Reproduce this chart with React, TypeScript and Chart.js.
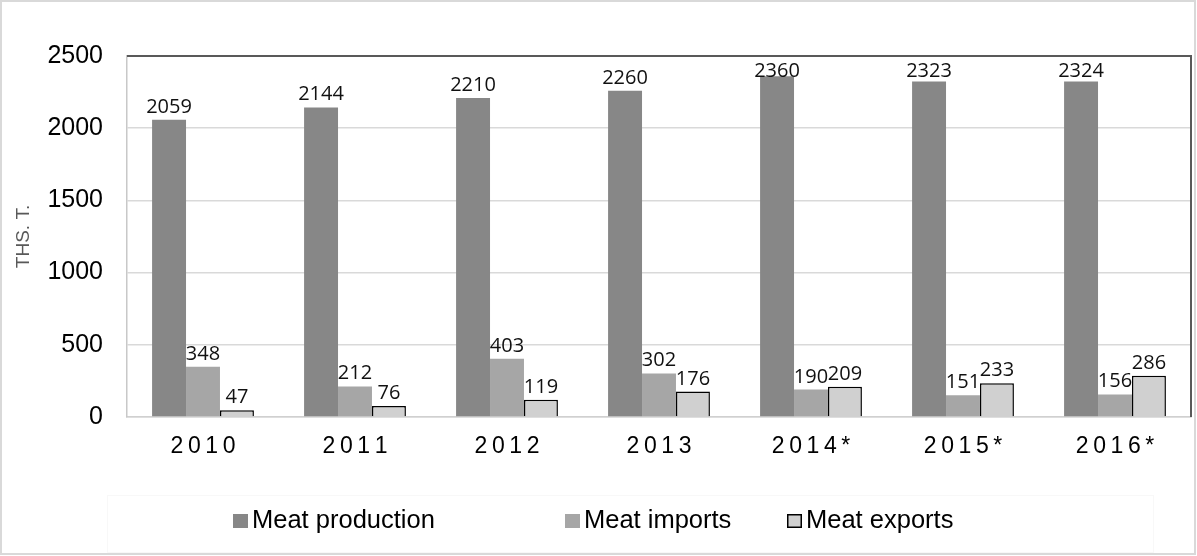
import React, { useEffect, useRef } from "react";
import { Chart, registerables } from "chart.js";

Chart.register(...registerables);

// Years on the category axis
const years = ["2010", "2011", "2012", "2013", "2014*", "2015*", "2016*"];

// Thousand tonnes per year
const meatProduction = [2059, 2144, 2210, 2260, 2360, 2323, 2324];
const meatImports = [348, 212, 403, 302, 190, 151, 156];
const meatExports = [47, 76, 119, 176, 209, 233, 286];

const seriesNames = ["Meat production", "Meat imports", "Meat exports"];

const yTicks = [0, 500, 1000, 1500, 2000, 2500];
const yTitle = "THS. T.";

const W = 1197;
const H = 556;

// Outer frame, plot frame (dark top and right edges) and a faint legend panel
const framePlugin = {
  id: "frame",
  beforeDraw(chart: any) {
    const ctx = chart.ctx;
    ctx.save();
    ctx.fillStyle = "#ffffff";
    ctx.fillRect(0, 0, chart.width, chart.height);
    ctx.strokeStyle = "#d9d9d9";
    ctx.lineWidth = 2;
    ctx.strokeRect(1, 1, chart.width - 3, chart.height - 3);
    ctx.strokeStyle = "#f8f8f8";
    ctx.lineWidth = 1;
    ctx.strokeRect(107.5, 495.5, 1046, 57);
    ctx.restore();
  },
  afterDraw(chart: any) {
    const { ctx, chartArea } = chart;
    ctx.save();
    ctx.strokeStyle = "#595959";
    ctx.lineWidth = 2;
    ctx.beginPath();
    ctx.moveTo(chartArea.left, chartArea.top);
    ctx.lineTo(chartArea.right, chartArea.top);
    ctx.lineTo(chartArea.right, chartArea.bottom);
    ctx.stroke();
    ctx.restore();
  },
};

// Value labels above each bar, kept inside the plot area
const valueLabelPlugin = {
  id: "valueLabels",
  afterDraw(chart: any) {
    const { ctx, chartArea } = chart;
    ctx.save();
    ctx.font = "20px 'Open Sans', 'Noto Sans', sans-serif";
    ctx.fillStyle = "#111111";
    ctx.textAlign = "center";
    ctx.textBaseline = "alphabetic";
    chart.data.datasets.forEach((ds: any, di: number) => {
      const meta = chart.getDatasetMeta(di);
      meta.data.forEach((el: any, i: number) => {
        const y = Math.max(el.y - 7, chartArea.top + 21);
        ctx.fillText(String(ds.data[i]), el.x, y);
      });
    });
    ctx.restore();
  },
};

// Legend drawn along the bottom with the spacing of the original layout
const legendSlots = [233, 565, 787];
const legendPlugin = {
  id: "bottomLegend",
  afterDraw(chart: any) {
    const ctx = chart.ctx;
    ctx.save();
    ctx.font = "25.5px 'Liberation Sans', Arial, sans-serif";
    ctx.textBaseline = "alphabetic";
    ctx.textAlign = "left";
    chart.data.datasets.forEach((ds: any, i: number) => {
      const x = legendSlots[i];
      const boxY = 514;
      ctx.fillStyle = ds.backgroundColor;
      ctx.fillRect(x, boxY, 15, 14);
      if (ds.borderWidth) {
        ctx.strokeStyle = ds.borderColor;
        ctx.lineWidth = 1.5;
        ctx.strokeRect(x + 0.75, boxY + 0.75, 13.5, 12.5);
      }
      ctx.fillStyle = "#000000";
      ctx.fillText(ds.label, x + 19, 528);
    });
    ctx.restore();
  },
};

export default function App() {
  const ref = useRef<HTMLCanvasElement | null>(null);

  useEffect(() => {
    if (!ref.current) return;
    const chart = new Chart(ref.current, {
      type: "bar",
      data: {
        labels: years,
        datasets: [
          {
            label: seriesNames[0],
            data: meatProduction,
            backgroundColor: "#878787",
            borderWidth: 0,
          },
          {
            label: seriesNames[1],
            data: meatImports,
            backgroundColor: "#a6a6a6",
            borderWidth: 0,
          },
          {
            label: seriesNames[2],
            data: meatExports,
            backgroundColor: "#d0d0d0",
            borderColor: "#000000",
            borderWidth: 1.5,
          },
        ],
      },
      options: {
        responsive: false,
        animation: false,
        layout: { padding: { top: 56, right: 6, bottom: 0, left: 0 } },
        datasets: {
          bar: { categoryPercentage: 0.67, barPercentage: 1 },
        },
        plugins: {
          legend: { display: false },
          tooltip: { enabled: false },
        },
        scales: {
          x: {
            grid: { display: false, drawTicks: false },
            border: { display: true, color: "#d0d0d0", width: 1.5 },
            ticks: {
              color: "#000000",
              padding: 16,
              font: { family: "'Liberation Sans', Arial, sans-serif", size: 23 },
              callback: (_v: any, i: number) => years[i].split("").join("\u2009"),
            },
            afterFit: (scale: any) => {
              scale.height = 139;
            },
          },
          y: {
            min: 0,
            max: 2500,
            afterBuildTicks: (scale: any) => {
              scale.ticks = yTicks.map((v) => ({ value: v }));
            },
            grid: { color: "#d9d9d9", lineWidth: 1.5, drawTicks: false },
            border: { display: true, color: "#c8c8c8", width: 1.5 },
            ticks: {
              color: "#000000",
              padding: 24,
              font: { family: "'Liberation Sans', Arial, sans-serif", size: 25 },
              callback: (v: any) => String(v),
            },
            title: {
              display: true,
              text: yTitle,
              color: "#595959",
              padding: { top: 12, bottom: 0 },
              font: { family: "'Liberation Sans', Arial, sans-serif", size: 19 },
            },
            afterFit: (scale: any) => {
              scale.width = 127;
            },
          },
        },
      },
      plugins: [framePlugin, valueLabelPlugin, legendPlugin],
    });
    return () => chart.destroy();
  }, []);

  return (
    <div style={{ position: "fixed", left: 0, top: 0, width: W, height: H, background: "#fff" }}>
      <canvas ref={ref} width={W} height={H} style={{ display: "block" }} />
    </div>
  );
}
